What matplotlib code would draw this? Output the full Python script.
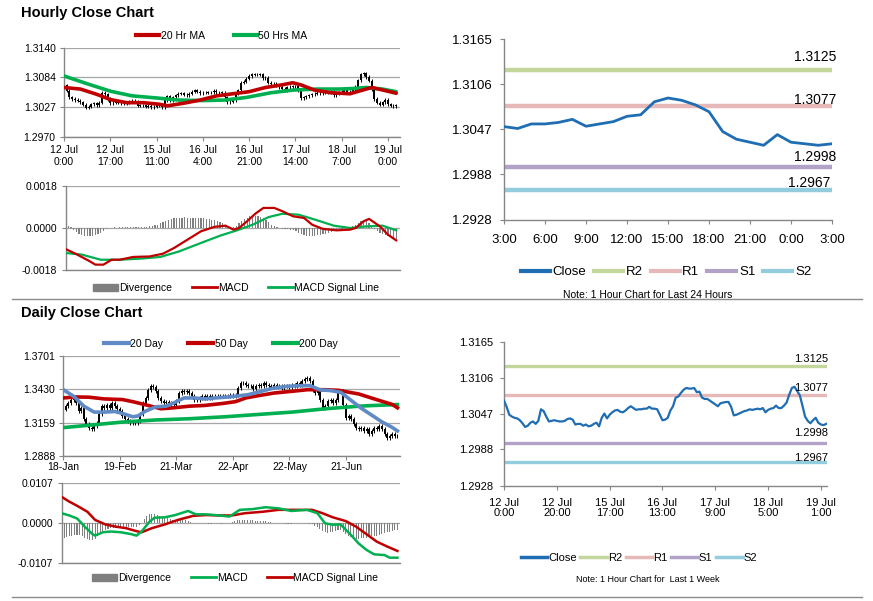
import numpy as np
import matplotlib
matplotlib.use("Agg")
from matplotlib import pyplot as plt
from matplotlib.lines import Line2D
from matplotlib.patches import Patch

plt.rcParams['font.family'] = ['Liberation Sans', 'DejaVu Sans']

W, H = 873, 601

#%% hourly data (last week, 1 hour bars)
hourly_close = [
    1.3068, 1.3058, 1.3045, 1.3042, 1.3040, 1.3039, 1.3036, 1.3031, 1.3025, 1.3027,
    1.3032, 1.3034, 1.3030, 1.3035, 1.3054, 1.3051, 1.3042, 1.3034, 1.3035, 1.3036,
    1.3035, 1.3034, 1.3034, 1.3035, 1.3038, 1.3039, 1.3037, 1.3029, 1.3030, 1.3030,
    1.3027, 1.3029, 1.3026, 1.3027, 1.3030, 1.3032, 1.3026, 1.3040, 1.3047, 1.3039,
    1.3045, 1.3049, 1.3052, 1.3053, 1.3050, 1.3049, 1.3052, 1.3056, 1.3059, 1.3056,
    1.3053, 1.3054, 1.3054, 1.3055, 1.3055, 1.3058, 1.3055, 1.3055, 1.3054, 1.3045,
    1.3036, 1.3037, 1.3040, 1.3052, 1.3059, 1.3073, 1.3075, 1.3081, 1.3086, 1.3089,
    1.3088, 1.3088, 1.3089, 1.3082, 1.3083, 1.3073, 1.3071, 1.3071, 1.3068, 1.3065,
    1.3062, 1.3059, 1.3064, 1.3065, 1.3066, 1.3066, 1.3058, 1.3044, 1.3045, 1.3047,
    1.3049, 1.3051, 1.3052, 1.3054, 1.3053, 1.3054, 1.3055, 1.3054, 1.3056, 1.3049,
    1.3053, 1.3055, 1.3056, 1.3060, 1.3056, 1.3056, 1.3060, 1.3065, 1.3078, 1.3089,
    1.3091, 1.3084, 1.3077, 1.3060, 1.3042, 1.3035, 1.3031, 1.3036, 1.3040, 1.3032,
    1.3029, 1.3028, 1.3030]

ma20_h_x = [0, 6, 12, 17, 23, 29, 35, 38, 44, 50, 56, 62, 68, 74, 80, 84, 87, 92, 98, 105, 109, 113, 118, 122]
ma20_h = [1.3064, 1.3061, 1.3051, 1.3041, 1.3035, 1.3035, 1.3032, 1.3029, 1.3034, 1.3040, 1.3048, 1.3052,
          1.3056, 1.3064, 1.3069, 1.3073, 1.3069, 1.3059, 1.3054, 1.3052, 1.3058, 1.3064, 1.3058, 1.3053]
ma50_h_x = [0, 8, 17, 25, 34, 42, 51, 59, 67, 76, 84, 93, 101, 106, 111, 117, 122]
ma50_h = [1.3086, 1.3072, 1.3057, 1.3048, 1.3044, 1.3040, 1.3039, 1.3040, 1.3045, 1.3054, 1.3059, 1.3061,
          1.3061, 1.3062, 1.3064, 1.3061, 1.3056]

macd_h_x = [0, 4, 9, 11, 14, 17, 20, 25, 31, 36, 40, 45, 50, 55, 59, 62, 64, 67, 70, 73,
            77, 80, 84, 88, 91, 95, 100, 105, 107, 110, 112, 116, 119, 122]
macd_h = [-0.00090, -0.00112, -0.00143, -0.00157, -0.00157, -0.00136, -0.00136, -0.00124, -0.00122, -0.00110,
          -0.00086, -0.00050, -0.00014, 0.00005, 0.00010, -0.00007, 0.0, 0.00029, 0.00061, 0.00086,
          0.00086, 0.00072, 0.00050, 0.00043, 0.00014, -0.00004, -0.00010, -0.00007, 0.0, 0.00029,
          0.00039, 0.00007, -0.00029, -0.00053]
signal_h_x = [0, 6, 13, 20, 28, 35, 42, 50, 57, 63, 69, 75, 80, 86, 92, 99, 105, 111, 117, 122]
signal_h = [-0.00107, -0.00114, -0.00136, -0.00136, -0.00131, -0.00124, -0.00100, -0.00064, -0.00033, -0.00011,
            0.00014, 0.00047, 0.00061, 0.00057, 0.00036, 0.00010, 0.0, 0.00007, 0.00010, -0.00010]
div_h = [
    0.0001, 0.0001, 0.00005,
    -0.0001, -0.00018, -0.00024, -0.0003, -0.00033, -0.00034, -0.00034, -0.00033, -0.0003, -0.00027, -0.0002,
    -0.00012, -0.00005,
    0.0, 0.00002, 0.00003, 0.00002, 0.00003, 0.00004, 0.00003, 0.00004, 0.00005, 0.00004, 0.00005, 0.00004,
    0.00005, 0.00006, 0.00005, 0.00008, 0.0001, 0.00012, 0.00015, 0.0002,
    0.00025, 0.0003, 0.00035, 0.0004, 0.00042,
    0.00044, 0.00045, 0.00045, 0.00046, 0.00045, 0.00045, 0.00044, 0.00044, 0.00043, 0.00043, 0.00042, 0.0004,
    0.00038, 0.00036, 0.00035, 0.0003, 0.00025, 0.0002,
    0.00012, 0.00005, 0.0, 0.00005, 0.0001,
    0.0002, 0.0003, 0.00038, 0.00045, 0.0005, 0.00052, 0.00052, 0.0005, 0.00048, 0.00042, 0.00035, 0.00025, 0.00015,
    0.00008, 0.00004, 0.0, -0.00003,
    -0.00005, -0.00006, -0.00008, -0.0001, -0.00014, -0.0002,
    -0.00026, -0.0003, -0.00033, -0.00034, -0.00034, -0.00033, -0.00032, -0.0003, -0.00027, -0.00024, -0.0002,
    -0.00016, -0.00012, -0.00008,
    -0.00005, -0.00003, 0.0, 0.00003, 0.00005, 0.0001, 0.00015,
    0.00022, 0.00028, 0.0003, 0.00028, 0.0002, 0.0001,
    -0.00005, -0.00012, -0.0002, -0.00026, -0.0003, -0.00035, -0.0004, -0.00043, -0.00045]

hourly_ticks = ["12 Jul\n0:00", "12 Jul\n17:00", "15 Jul\n11:00", "16 Jul\n4:00",
                "16 Jul\n21:00", "17 Jul\n14:00", "18 Jul\n7:00", "19 Jul\n0:00"]
week_ticks = ["12 Jul\n0:00", "12 Jul\n20:00", "15 Jul\n17:00", "16 Jul\n13:00",
              "17 Jul\n9:00", "18 Jul\n5:00", "19 Jul\n1:00"]

#%% daily data
daily_close = [
    1.3266, 1.3293, 1.3320, 1.3347, 1.3360, 1.3320, 1.3253, 1.3280, 1.3186, 1.3146,
    1.3119, 1.3105, 1.3132, 1.3159, 1.3226, 1.3293, 1.3280, 1.3306, 1.3280, 1.3320,
    1.3293, 1.3272, 1.3253, 1.3213, 1.3186, 1.3172, 1.3159, 1.3153, 1.3159, 1.3172,
    1.3226, 1.3320, 1.3360, 1.3427, 1.3460, 1.3449, 1.3414, 1.3360, 1.3333, 1.3320,
    1.3325, 1.3320, 1.3306, 1.3306, 1.3333, 1.3400, 1.3414, 1.3406, 1.3414, 1.3400,
    1.3374, 1.3347, 1.3347, 1.3360, 1.3374, 1.3360, 1.3374, 1.3360, 1.3374, 1.3379,
    1.3374, 1.3379, 1.3374, 1.3379, 1.3374, 1.3387, 1.3374, 1.3387, 1.3441, 1.3481,
    1.3481, 1.3468, 1.3454, 1.3454, 1.3433, 1.3454, 1.3468, 1.3454, 1.3481, 1.3468,
    1.3460, 1.3449, 1.3468, 1.3454, 1.3460, 1.3441, 1.3454, 1.3460, 1.3449, 1.3468,
    1.3460, 1.3481, 1.3468, 1.3494, 1.3513, 1.3521, 1.3494, 1.3427, 1.3400, 1.3414,
    1.3347, 1.3280, 1.3293, 1.3333, 1.3347, 1.3320, 1.3347, 1.3406, 1.3414, 1.3306,
    1.3199, 1.3213, 1.3186, 1.3146, 1.3119, 1.3105, 1.3119, 1.3092, 1.3105, 1.3065,
    1.3092, 1.3119, 1.3105, 1.3132, 1.3105, 1.3065, 1.3038, 1.3052, 1.3065, 1.3052,
    1.3047]

ma20_d_x = [0, 4, 8, 12, 16, 20, 23, 27, 29, 32, 36, 40, 43, 47, 51, 55, 59, 63, 67, 72,
            77, 82, 87, 92, 96, 100, 104, 108, 112, 116, 120, 124, 128, 130]
ma20_d = [1.3427, 1.3374, 1.3293, 1.3245, 1.3245, 1.3250, 1.3234, 1.3207, 1.3213, 1.3253,
          1.3288, 1.3293, 1.3320, 1.3360, 1.3360, 1.3352, 1.3360, 1.3366, 1.3374, 1.3387,
          1.3414, 1.3441, 1.3454, 1.3460, 1.3460, 1.3425, 1.3420, 1.3405, 1.3340, 1.3275,
          1.3220, 1.3165, 1.3120, 1.3092]
ma50_d_x = [0, 5, 10, 16, 23, 28, 33, 38, 43, 49, 55, 62, 67, 71, 76, 82, 89, 95, 102, 107,
            115, 121, 128, 130]
ma50_d = [1.3360, 1.3368, 1.3366, 1.3352, 1.3347, 1.3325, 1.3299, 1.3272, 1.3280, 1.3293,
          1.3299, 1.3315, 1.3330, 1.3360, 1.3379, 1.3400, 1.3414, 1.3427, 1.3427, 1.3422,
          1.3392, 1.3352, 1.3307, 1.3280]
ma200_d_x = [0, 10, 23, 36, 49, 63, 76, 89, 102, 115, 121, 130]
ma200_d = [1.3119, 1.3138, 1.3164, 1.3181, 1.3191, 1.3207, 1.3226, 1.3245, 1.3272, 1.3293, 1.3299, 1.3306]

macd_d_x = [0, 3, 6, 9, 12, 13, 16, 19, 23, 27, 29, 31, 34, 36, 40, 44, 49, 52, 56, 61,
            65, 69, 74, 79, 84, 89, 95, 99, 102, 105, 108, 112, 115, 118, 121, 125, 127, 130]
macd_d = [0.0027, 0.0021, 0.0013, -0.0009, -0.0029, -0.0033, -0.0024, -0.0022, -0.0024, -0.0029,
          -0.0033, -0.0022, 0.0004, 0.0015, 0.0016, 0.0022, 0.0033, 0.0024, 0.0024, 0.0021,
          0.0018, 0.0036, 0.0038, 0.0043, 0.0040, 0.0033, 0.0036, 0.0027, 0.0, -0.0004,
          -0.0003, -0.0031, -0.0054, -0.0071, -0.0083, -0.0085, -0.0092, -0.0092]
signal_d_x = [0, 3, 6, 10, 13, 17, 21, 25, 29, 31, 35, 40, 45, 51, 56, 61, 66, 71, 78, 84,
              92, 97, 101, 105, 110, 114, 118, 122, 126, 130]
signal_d = [0.0071, 0.0058, 0.0047, 0.0031, 0.0009, -0.0003, -0.0009, -0.0013, -0.0021, -0.0024,
            -0.0013, -0.0003, 0.0009, 0.0020, 0.0022, 0.0021, 0.0021, 0.0027, 0.0031, 0.0036,
            0.0036, 0.0036, 0.0027, 0.0016, 0.0006, -0.0009, -0.0029, -0.0049, -0.0062, -0.0074]
div_d = [
    -0.0040, -0.0038, -0.0036, -0.0034,
    -0.0033, -0.0032, -0.0030, -0.0030, -0.0033,
    -0.0038, -0.0042, -0.0045, -0.0045, -0.0042, -0.0035,
    -0.0025, -0.0020, -0.0018, -0.0015, -0.0013, -0.0012,
    -0.0012, -0.0013, -0.0012, -0.0012, -0.0012, -0.0010, -0.0010, -0.0010,
    -0.0009, -0.0005, 0.0002,
    0.0012, 0.0020, 0.0024, 0.0025, 0.0024, 0.0022, 0.0020, 0.0018, 0.0016,
    0.0014, 0.0012, 0.0010, 0.0010, 0.0012, 0.0012, 0.0010,
    0.0008, 0.0005, 0.0003, 0.0002, 0.0002, 0.0001, 0.0001, 0.0000,
    0.0000, -0.0001, -0.0001, 0.0000, 0.0000, 0.0000, -0.0001, 0.0000, 0.0000, 0.0002,
    0.0004, 0.0006, 0.0008, 0.0008, 0.0009, 0.0009, 0.0009, 0.0008, 0.0008, 0.0007, 0.0006, 0.0006, 0.0005,
    0.0005, 0.0004,
    0.0003, 0.0002, 0.0001, 0.0001, 0.0000, 0.0000, -0.0001, -0.0002, -0.0002, 0.0000, 0.0001, 0.0002,
    0.0002, 0.0001, 0.0000, -0.0001, -0.0003, -0.0006,
    -0.0010, -0.0015, -0.0020, -0.0023, -0.0025, -0.0024, -0.0022, -0.0020, -0.0018,
    -0.0018, -0.0022, -0.0028, -0.0033, -0.0037, -0.0040, -0.0042, -0.0042,
    -0.0040, -0.0040, -0.0038, -0.0036, -0.0035, -0.0034, -0.0033, -0.0030,
    -0.0028, -0.0026, -0.0024, -0.0022, -0.0020, -0.0019, -0.0018]

daily_ticks = ["18-Jan", "19-Feb", "21-Mar", "22-Apr", "22-May", "21-Jun"]

#%% last 24 hours + pivot levels
day_close = [1.30505, 1.3048, 1.3054, 1.3054, 1.3056, 1.3060, 1.3051, 1.3054, 1.3057, 1.3064,
             1.3066, 1.3083, 1.3088, 1.3085, 1.3079, 1.3070, 1.3044, 1.3034, 1.3030, 1.3026,
             1.3040, 1.3030, 1.3028, 1.3026, 1.3028]
day_ticks = ["3:00", "6:00", "9:00", "12:00", "15:00", "18:00", "21:00", "0:00", "3:00"]
level_names = ["R2", "R1", "S1", "S2"]
levels = [1.3125, 1.3077, 1.2998, 1.2967]

#%% colours
RED = '#c00000'
GREEN = '#00b050'
BLUE20 = '#5f8ac6'
DIVG = '#7f7f7f'
CLOSE = '#1f6db3'
LVL_COL = ['#c3d69b', '#e6b9b8', '#b3a2c7', '#93cddd']
GRID = '#a6a6a6'
AXC = '#868686'

fig = plt.figure(figsize=(W / 100, H / 100), dpi=100)


def add_ax(l, t, r, b):
    return fig.add_axes([l / W, 1 - b / H, (r - l) / W, (b - t) / H])


def base_style(ax, yt, fs, ypad, grid=True):
    ax.set_yticks(yt)
    ax.set_yticklabels(['%.4f' % v for v in yt])
    for s in ['top', 'right']:
        ax.spines[s].set_visible(False)
    for s in ['left', 'bottom']:
        ax.spines[s].set_color(AXC)
        ax.spines[s].set_linewidth(1.0)
    if grid:
        ax.grid(axis='y', color=GRID, lw=0.9)
        ax.set_axisbelow(True)
    ax.tick_params(axis='y', labelsize=fs, length=3, color=AXC, pad=ypad)
    ax.tick_params(axis='x', labelsize=fs, length=3, color=AXC)


def draw_candles(ax, c, wick):
    c = np.asarray(c)
    x = np.arange(len(c))
    o = np.r_[c[0], c[:-1]]
    ax.vlines(x, np.minimum(o, c) - wick, np.maximum(o, c) + wick, color='black', lw=0.7, zorder=2)
    ax.vlines(x, np.minimum(o, c), np.maximum(o, c), color='black', lw=1.4, zorder=2)


def legend_at(handles, labels, cx, cy, fs, hl, htp, cs):
    fig.legend(handles, labels, loc='center', bbox_to_anchor=(cx / W, 1 - cy / H),
               ncol=len(labels), frameon=False, fontsize=fs, handlelength=hl,
               handletextpad=htp, columnspacing=cs, borderpad=0, borderaxespad=0)


#%% hourly close chart
ax1 = add_ax(64, 47.7, 400, 136.7)
draw_candles(ax1, hourly_close, 0.0003)
ax1.plot(ma50_h_x, ma50_h, color=GREEN, lw=2.6, zorder=3, solid_capstyle='round')
ax1.plot(ma20_h_x, ma20_h, color=RED, lw=2.6, zorder=3, solid_capstyle='round')
ax1.set_ylim(1.2970, 1.3140)
ax1.set_xlim(0, 123.4)
base_style(ax1, [1.3140, 1.3084, 1.3027, 1.2970], 7.5, 3)
ax1.set_xticks(range(0, 120, 17))
ax1.set_xticklabels(hourly_ticks)
ax1.tick_params(axis='x', pad=3)
legend_at([Line2D([], [], color=RED, lw=3), Line2D([], [], color=GREEN, lw=3)],
          ['20 Hr MA', '50 Hrs MA'], 222, 36, 7.5, 2.2, 0.15, 2.8)

ax2 = add_ax(65.5, 186, 400, 270)
ax2.bar(np.arange(len(div_h)), div_h, width=0.45, color=DIVG, zorder=2)
ax2.plot(signal_h_x, signal_h, color=GREEN, lw=1.6, zorder=3)
ax2.plot(macd_h_x, macd_h, color=RED, lw=1.6, zorder=3)
ax2.set_ylim(-0.0018, 0.0018)
ax2.set_xlim(0, 123.4)
base_style(ax2, [0.0018, 0.0, -0.0018], 7.5, 3)
ax2.set_xticks([])
legend_at([Patch(color=DIVG), Line2D([], [], color=RED, lw=2), Line2D([], [], color=GREEN, lw=2)],
          ['Divergence', 'MACD', 'MACD Signal Line'], 236, 288, 7.5, 2.4, 0.1, 1.9)

#%% daily close chart
ax3 = add_ax(63.3, 356, 400, 456)
draw_candles(ax3, daily_close, 0.0016)
ax3.plot(ma200_d_x, ma200_d, color=GREEN, lw=2.6, zorder=3)
ax3.plot(ma50_d_x, ma50_d, color=RED, lw=2.6, zorder=3)
ax3.plot(ma20_d_x, ma20_d, color=BLUE20, lw=2.6, zorder=3)
ax3.set_ylim(1.2888, 1.3701)
ax3.set_xlim(0, 131)
base_style(ax3, [1.3701, 1.3430, 1.3159, 1.2888], 7.5, 3)
ax3.set_xticks(range(0, 111, 22))
ax3.set_xticklabels(daily_ticks)
ax3.tick_params(axis='x', pad=1.5)
legend_at([Line2D([], [], color=BLUE20, lw=3), Line2D([], [], color=RED, lw=3),
           Line2D([], [], color=GREEN, lw=3)],
          ['20 Day', '50 Day', '200 Day'], 221, 344, 7.5, 2.4, 0.15, 2.4)

ax4 = add_ax(61.5, 483.3, 400, 563.3)
ax4.bar(np.arange(len(div_d)), div_d, width=0.4, color=DIVG, zorder=2)
ax4.plot(signal_d_x, signal_d, color=RED, lw=1.8, zorder=3)
ax4.plot(macd_d_x, macd_d, color=GREEN, lw=1.8, zorder=3)
ax4.set_ylim(-0.0107, 0.0107)
ax4.set_xlim(0, 131)
base_style(ax4, [0.0107, 0.0, -0.0107], 7.5, 3)
ax4.set_xticks([])
legend_at([Patch(color=DIVG), Line2D([], [], color=GREEN, lw=2), Line2D([], [], color=RED, lw=2)],
          ['Divergence', 'MACD', 'MACD Signal Line'], 235, 578, 7.5, 2.4, 0.1, 1.9)

#%% right top: last 24 hours
ax5 = add_ax(504, 39.3, 832, 220)
for lv, col in zip(levels, LVL_COL):
    ax5.axhline(lv, color=col, lw=3.2, zorder=2)
ax5.plot(range(len(day_close)), day_close, color=CLOSE, lw=2.0, zorder=3)
ax5.set_ylim(1.2928, 1.3165)
ax5.set_xlim(0, 24)
base_style(ax5, [1.3165, 1.3106, 1.3047, 1.2988, 1.2928], 9.5, 5, grid=False)
ax5.set_xticks(range(0, 25, 3))
ax5.set_xticklabels(day_ticks)
ax5.tick_params(axis='x', pad=7)
for txt, x, y in zip(['%.4f' % v for v in levels], [836, 836, 836, 830], [56.7, 99.5, 157, 182.7]):
    fig.text(x / W, 1 - y / H, txt, ha='right', va='center', fontsize=10)
legend_at([Line2D([], [], color=CLOSE, lw=3)] + [Line2D([], [], color=c, lw=3) for c in LVL_COL],
          ['Close'] + level_names, 666, 272, 9.5, 2.2, 0.2, 0.6)
fig.text(648 / W, 1 - 295 / H, 'Note: 1 Hour Chart for Last 24 Hours', ha='center', va='center', fontsize=7.5)

#%% right bottom: last week
ax6 = add_ax(504, 341.7, 827, 486)
for lv, col in zip(levels, LVL_COL):
    ax6.axhline(lv, color=col, lw=2.4, zorder=2)
ax6.plot(range(len(hourly_close)), hourly_close, color=CLOSE, lw=1.6, zorder=3)
ax6.set_ylim(1.2928, 1.3165)
ax6.set_xlim(0, 122.3)
base_style(ax6, [1.3165, 1.3106, 1.3047, 1.2988, 1.2928], 8, 5, grid=False)
ax6.set_xticks(range(0, 121, 20))
ax6.set_xticklabels(week_ticks, linespacing=1.0)
ax6.tick_params(axis='x', pad=6)
for txt, y in zip(['%.4f' % v for v in levels], [359.3, 388.3, 433.3, 457.7]):
    fig.text(828 / W, 1 - y / H, txt, ha='right', va='center', fontsize=8)
legend_at([Line2D([], [], color=CLOSE, lw=2.5)] + [Line2D([], [], color=c, lw=2.5) for c in LVL_COL],
          ['Close'] + level_names, 639, 558, 8, 2.4, 0.1, 0.3)
fig.text(648 / W, 1 - 579 / H, 'Note: 1 Hour Chart for  Last 1 Week', ha='center', va='center', fontsize=6.5)

#%% titles and separators
fig.text(21 / W, 1 - 13 / H, 'Hourly Close Chart', ha='left', va='center', fontsize=10.5, fontweight='bold')
fig.text(21 / W, 1 - 313 / H, 'Daily Close Chart', ha='left', va='center', fontsize=10.5, fontweight='bold')
for yy in [299, 597]:
    fig.add_artist(Line2D([12 / W, 862 / W], [1 - yy / H, 1 - yy / H], color='#8c8c8c', lw=1.0))

fig.savefig('out.png', dpi=100)
